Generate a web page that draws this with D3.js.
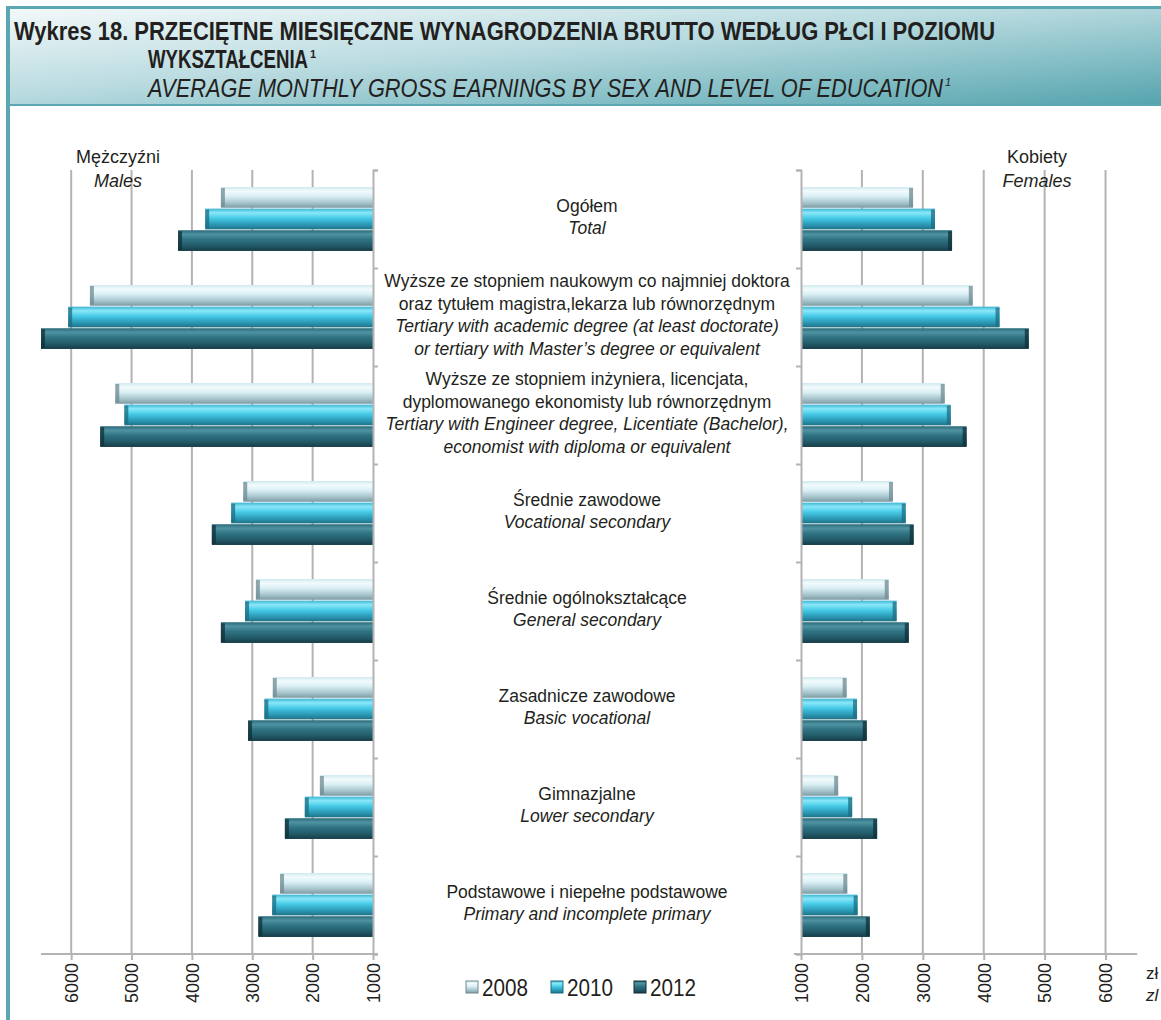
<!DOCTYPE html>
<html lang="pl">
<head>
    <meta charset="UTF-8">
    <title>Wykres 18</title>
    <script src="https://cdn.jsdelivr.net/npm/d3@7"></script>
    <style>
        body { margin: 0; background: #fff; }
        svg { display: block; font-family: "Liberation Sans", Arial, sans-serif; }
    </style>
</head>
<body>
<script type="text/javascript">
    // dane
    var years = ['2008', '2010', '2012'];
    var categories = ['ogolem', 'wyzsze_dr', 'wyzsze_inz', 'srednie_zaw', 'srednie_ogol', 'zasadnicze', 'gimnazjalne', 'podstawowe'];
    var labelsPL = [
        ['Ogółem'],
        ['Wyższe ze stopniem naukowym co najmniej doktora', 'oraz tytułem magistra,lekarza lub równorzędnym'],
        ['Wyższe ze stopniem inżyniera, licencjata,', 'dyplomowanego ekonomisty lub równorzędnym'],
        ['Średnie zawodowe'],
        ['Średnie ogólnokształcące'],
        ['Zasadnicze zawodowe'],
        ['Gimnazjalne'],
        ['Podstawowe i niepełne podstawowe']
    ];
    var labelsEN = [
        ['Total'],
        ['Tertiary with academic degree (at least doctorate)', 'or tertiary with Master\u2019s degree or equivalent'],
        ['Tertiary with Engineer degree, Licentiate (Bachelor),', 'economist with diploma or equivalent'],
        ['Vocational secondary'],
        ['General secondary'],
        ['Basic vocational'],
        ['Lower secondary'],
        ['Primary and incomplete primary']
    ];
    var males2008 = [3520, 5690, 5270, 3150, 2940, 2660, 1880, 2540];
    var males2010 = [3780, 6050, 5120, 3350, 3120, 2800, 2130, 2670];
    var males2012 = [4230, 6500, 5520, 3670, 3520, 3070, 2460, 2900];
    var females2008 = [2840, 3820, 3360, 2510, 2440, 1750, 1610, 1760];
    var females2010 = [3200, 4260, 3460, 2720, 2570, 1920, 1840, 1930];
    var females2012 = [3480, 4740, 3720, 2850, 2770, 2080, 2250, 2130];
    var tickValues = [1000, 2000, 3000, 4000, 5000, 6000];

    var males = {'2008': males2008, '2010': males2010, '2012': males2012};
    var females = {'2008': females2008, '2010': females2010, '2012': females2012};

    var width = 1161, height = 1020;
    var teal = '#5aa7b1';
    var gridColor = '#b3b3b3';

    var svg = d3.select('body').append('svg')
        .attr('width', width)
        .attr('height', height);

    var defs = svg.append('defs');

    // gradient naglowka
    var hg = defs.append('linearGradient').attr('id', 'hdr')
        .attr('x1', 0).attr('y1', 0).attr('x2', 1).attr('y2', 1);
    hg.append('stop').attr('offset', 0).attr('stop-color', '#f4f9fa');
    hg.append('stop').attr('offset', 0.45).attr('stop-color', '#b9dbe0');
    hg.append('stop').attr('offset', 1).attr('stop-color', '#55a4ae');

    // gradienty slupkow
    var barStops = {
        '2008': ['#cfe9ef', '#f2fbfd', '#d9eff4', '#a8c6ce', '#7e9ba3'],
        '2010': ['#3fb6d3', '#8ae8f8', '#47cbe8', '#2c9cb8', '#1f7288'],
        '2012': ['#2b6b7a', '#4f93a2', '#2f7382', '#225a68', '#163c47']
    };
    var endColor = {'2008': '#6f8a92', '2010': '#1e6c80', '2012': '#102f38'};
    years.forEach(function (y) {
        var g = defs.append('linearGradient').attr('id', 'bar' + y)
            .attr('x1', 0).attr('y1', 0).attr('x2', 0).attr('y2', 1);
        var offs = [0, 0.2, 0.45, 0.75, 1];
        barStops[y].forEach(function (c, i) {
            g.append('stop').attr('offset', offs[i]).attr('stop-color', c);
        });
    });

    // ramka i naglowek
    svg.append('rect').attr('x', 7).attr('y', 7).attr('width', width - 7).attr('height', 98)
        .attr('fill', 'url(#hdr)');
    svg.append('line').attr('x1', 7).attr('x2', width).attr('y1', 7.5).attr('y2', 7.5)
        .attr('stroke', teal).attr('stroke-width', 3);
    svg.append('line').attr('x1', 7).attr('x2', width).attr('y1', 105).attr('y2', 105)
        .attr('stroke', teal).attr('stroke-width', 2);
    svg.append('line').attr('x1', 8).attr('x2', 8).attr('y1', 6).attr('y2', height)
        .attr('stroke', teal).attr('stroke-width', 4);

    var narrow = '"Liberation Sans Narrow", "Arial Narrow", "Liberation Sans", sans-serif';
    svg.append('text').attr('x', 14).attr('y', 40)
        .attr('font-family', narrow).attr('font-weight', 'bold').attr('font-size', 25)
        .attr('fill', '#231f20')
        .attr('textLength', 981).attr('lengthAdjust', 'spacingAndGlyphs')
        .text('Wykres 18. PRZECIĘTNE MIESIĘCZNE WYNAGRODZENIA BRUTTO WEDŁUG PŁCI I POZIOMU');
    svg.append('text').attr('x', 148).attr('y', 68)
        .attr('font-family', narrow).attr('font-weight', 'bold').attr('font-size', 25)
        .attr('fill', '#231f20')
        .attr('textLength', 160).attr('lengthAdjust', 'spacingAndGlyphs')
        .text('WYKSZTAŁCENIA');
    svg.append('text').attr('x', 310).attr('y', 58)
        .attr('font-family', narrow).attr('font-weight', 'bold').attr('font-size', 11)
        .attr('fill', '#231f20').text('1');
    svg.append('text').attr('x', 148).attr('y', 97)
        .attr('font-family', narrow).attr('font-style', 'italic').attr('font-size', 25)
        .attr('fill', '#231f20')
        .attr('textLength', 795).attr('lengthAdjust', 'spacingAndGlyphs')
        .text('AVERAGE MONTHLY GROSS EARNINGS BY SEX AND LEVEL OF EDUCATION');
    svg.append('text').attr('x', 945).attr('y', 86)
        .attr('font-family', narrow).attr('font-style', 'italic').attr('font-size', 11)
        .attr('fill', '#231f20').text('1');

    // skale
    var plotTop = 170, plotBottom = 954;
    var yScale = d3.scaleBand().domain(categories).range([plotTop, plotBottom])
        .paddingInner(0.33).paddingOuter(0.165);
    var yInner = d3.scaleBand().domain(years).range([0, yScale.bandwidth()]).padding(0.04);
    var yEdge = d3.scaleLinear().domain([0, categories.length]).range([plotTop, plotBottom]);
    var xLeft = d3.scaleLinear().domain([1000, 6500]).range([373, 41]);
    var xRight = d3.scaleLinear().domain([1000, 6500]).range([801, 1136]);

    // linie siatki
    svg.append('g').selectAll('line').data(tickValues.slice(1)).enter().append('line')
        .attr('x1', function (d) { return xLeft(d); })
        .attr('x2', function (d) { return xLeft(d); })
        .attr('y1', plotTop).attr('y2', plotBottom)
        .attr('stroke', gridColor).attr('stroke-width', 2);
    svg.append('g').selectAll('line').data(tickValues.slice(1)).enter().append('line')
        .attr('x1', function (d) { return xRight(d); })
        .attr('x2', function (d) { return xRight(d); })
        .attr('y1', plotTop).attr('y2', plotBottom)
        .attr('stroke', gridColor).attr('stroke-width', 2);

    // slupki
    function drawBars(data, xs, left) {
        years.forEach(function (y) {
            var g = svg.append('g');
            var rows = categories.map(function (c, i) { return {c: c, v: data[y][i]}; });
            g.selectAll('rect.bar').data(rows).enter().append('rect')
                .attr('class', 'bar')
                .attr('x', function (d) { return left ? xs(d.v) : xs(1000); })
                .attr('width', function (d) { return Math.abs(xs(d.v) - xs(1000)); })
                .attr('y', function (d) { return yScale(d.c) + yInner(y); })
                .attr('height', yInner.bandwidth())
                .attr('fill', 'url(#bar' + y + ')');
            // ciemne zakonczenie
            g.selectAll('rect.end').data(rows).enter().append('rect')
                .attr('class', 'end')
                .attr('x', function (d) { return left ? xs(d.v) : xs(d.v) - 4; })
                .attr('width', 4)
                .attr('y', function (d) { return yScale(d.c) + yInner(y) + 1; })
                .attr('height', yInner.bandwidth() - 2)
                .attr('fill', endColor[y]).attr('opacity', 0.75);
        });
    }
    drawBars(males, xLeft, true);
    drawBars(females, xRight, false);

    // osie pionowe
    var leftAxis = d3.axisRight(yEdge).ticks(categories.length).tickSize(5).tickFormat('');
    var rightAxis = d3.axisLeft(yEdge).ticks(categories.length).tickSize(5).tickFormat('');
    svg.append('g').attr('class', 'axis').attr('transform', 'translate(' + xLeft(1000) + ',0)').call(leftAxis);
    svg.append('g').attr('class', 'axis').attr('transform', 'translate(' + xRight(1000) + ',0)').call(rightAxis);

    // osie poziome
    var bLeft = d3.axisBottom(xLeft).tickValues(tickValues).tickSize(6).tickSizeOuter(0).tickFormat(d3.format('d'));
    var bRight = d3.axisBottom(xRight).tickValues(tickValues).tickSize(6).tickSizeOuter(0).tickFormat(d3.format('d'));
    var gl = svg.append('g').attr('class', 'axis').attr('transform', 'translate(0,' + plotBottom + ')').call(bLeft);
    var gr = svg.append('g').attr('class', 'axis').attr('transform', 'translate(0,' + plotBottom + ')').call(bRight);
    [gl, gr].forEach(function (g) {
        g.selectAll('.tick text')
            .attr('transform', 'rotate(-90)')
            .attr('x', -9).attr('y', 0).attr('dy', '0.35em')
            .attr('text-anchor', 'end')
            .attr('font-size', 18)
            .attr('font-family', '"Liberation Sans", Arial, sans-serif')
            .attr('fill', '#231f20');
    });
    gl.select('.domain').attr('d', 'M' + xLeft(6500) + ',0H' + (xLeft(1000) + 5));
    gr.select('.domain').attr('d', 'M' + (xRight(1000) - 7) + ',0H' + xRight(6520));
    svg.selectAll('.axis .domain').attr('stroke', gridColor).attr('stroke-width', 2);
    svg.selectAll('.axis .tick line').attr('stroke', gridColor).attr('stroke-width', 2);

    // opisy kategorii
    var labelX = 587;
    var lineH = 22.5;
    categories.forEach(function (c, i) {
        var lines = labelsPL[i].map(function (t) { return {t: t, it: false}; })
            .concat(labelsEN[i].map(function (t) { return {t: t, it: true}; }));
        var cy = yScale(c) + yScale.bandwidth() / 2 - 2;
        var y0 = cy - (lines.length - 1) * lineH / 2;
        svg.append('g').selectAll('text').data(lines).enter().append('text')
            .attr('x', labelX)
            .attr('y', function (d, j) { return y0 + j * lineH; })
            .attr('dy', '0.35em')
            .attr('text-anchor', 'middle')
            .attr('font-size', 17.5)
            .attr('font-style', function (d) { return d.it ? 'italic' : 'normal'; })
            .attr('fill', '#231f20')
            .text(function (d) { return d.t; });
    });

    // plec
    function sexLabel(x, pl, en) {
        svg.append('text').attr('x', x).attr('y', 163).attr('text-anchor', 'middle')
            .attr('font-size', 18).attr('fill', '#231f20').text(pl);
        svg.append('text').attr('x', x).attr('y', 187).attr('text-anchor', 'middle')
            .attr('font-size', 18).attr('font-style', 'italic').attr('fill', '#231f20').text(en);
    }
    sexLabel(118, 'Mężczyźni', 'Males');
    sexLabel(1037, 'Kobiety', 'Females');

    // jednostka
    svg.append('text').attr('x', 1146).attr('y', 979).attr('font-size', 17).attr('fill', '#231f20').text('zł');
    svg.append('text').attr('x', 1146).attr('y', 1001).attr('font-size', 17).attr('font-style', 'italic')
        .attr('fill', '#231f20').text('zl');

    // legenda
    var legendX = [466, 551, 634];
    var lg = svg.append('g').selectAll('g').data(years).enter().append('g')
        .attr('transform', function (d, i) { return 'translate(' + legendX[i] + ',987)'; });
    lg.append('rect').attr('x', 0).attr('y', -6).attr('width', 12).attr('height', 12)
        .attr('fill', function (d) { return 'url(#bar' + d + ')'; })
        .attr('stroke', function (d) { return endColor[d]; }).attr('stroke-width', 1);
    lg.append('text').attr('x', 16).attr('y', 0).attr('dy', '0.36em')
        .attr('font-family', narrow).attr('font-size', 24).attr('fill', '#231f20')
        .attr('textLength', 46).attr('lengthAdjust', 'spacingAndGlyphs')
        .text(function (d) { return d; });
</script>
</body>
</html>
